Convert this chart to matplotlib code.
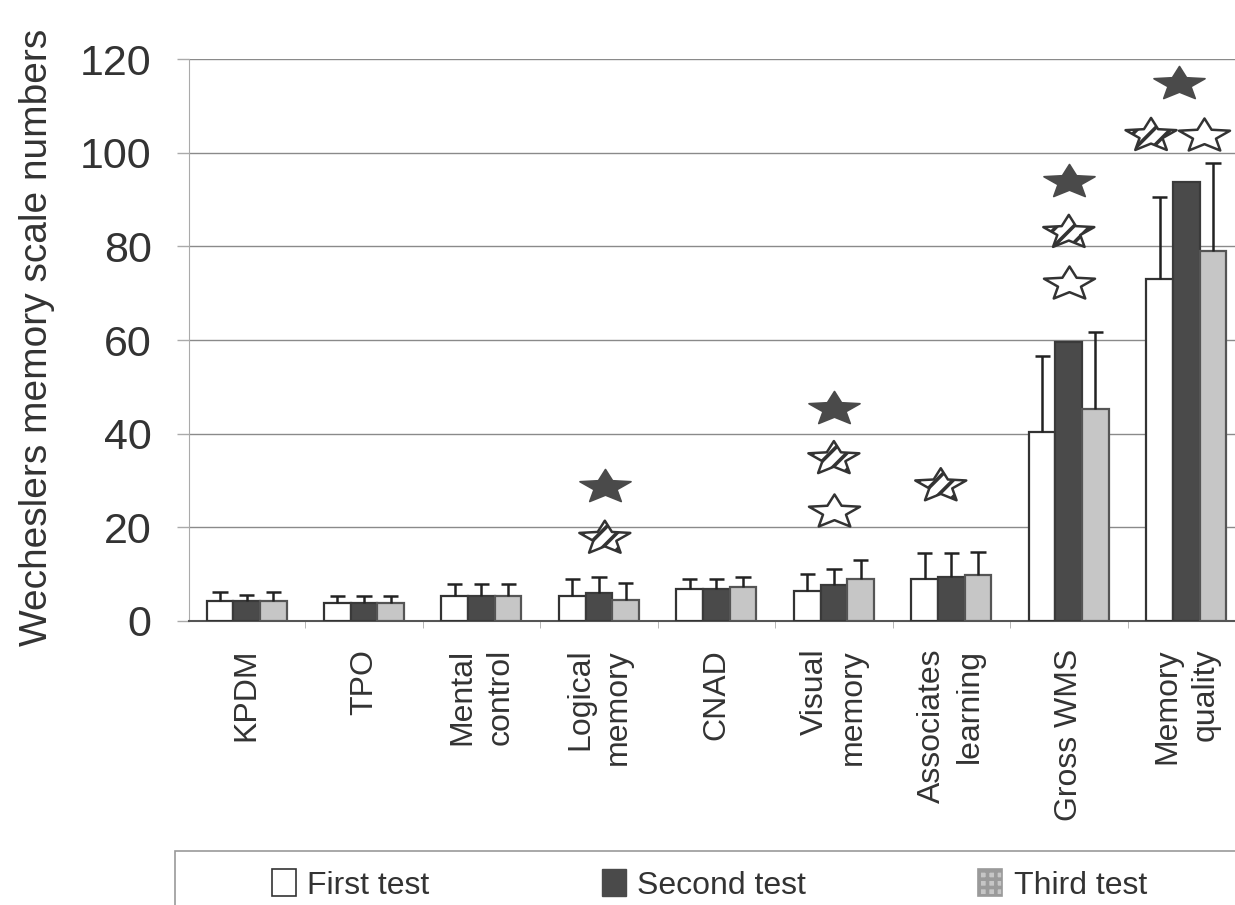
import numpy as np
import matplotlib
matplotlib.use('Agg')
import matplotlib.pyplot as plt
from matplotlib.path import Path
from matplotlib.patches import Patch, Rectangle

plt.rcParams['font.family'] = ['Liberation Sans', 'DejaVu Sans']
plt.rcParams['hatch.linewidth'] = 2.6

categories = ['KPDM', 'TPO', 'Mental\ncontrol', 'Logical\nmemory', 'CNAD',
              'Visual\nmemory', 'Associates\nlearning', 'Gross WMS', 'Memory\nquality']

# means and upper SD for each test
first_test = [4.3, 3.8, 5.3, 5.4, 6.8, 6.4, 9.0, 40.3, 73.0]
first_sd = [1.8, 1.5, 2.6, 3.6, 2.2, 3.6, 5.6, 16.3, 17.5]
second_test = [4.3, 3.8, 5.3, 5.9, 6.8, 7.7, 9.5, 59.6, 93.8]
second_sd = [1.3, 1.5, 2.6, 3.6, 2.2, 3.5, 5.1, np.nan, np.nan]
third_test = [4.3, 3.8, 5.3, 4.5, 7.2, 9.0, 9.8, 45.2, 78.9]
third_sd = [1.8, 1.5, 2.6, 3.7, 2.3, 4.0, 5.0, 16.5, 18.8]

# significance stars: category index, offset inside group, height
filled_cat = [3, 5, 7, 8]
filled_off = [0.05, 0.0, 0.0, -0.06]
filled_y = [29.0, 45.8, 94.2, 115.1]
hatched_cat = [3, 5, 6, 7, 8]
hatched_off = [0.05, 0.0, -0.09, 0.0, -0.30]
hatched_y = [18.0, 35.0, 29.2, 83.3, 104.0]
open_cat = [5, 7, 8]
open_off = [0.0, 0.0, 0.15]
open_y = [23.6, 72.4, 104.0]

legend_labels = ['First test', 'Second test', 'Third test']

TEXT = '#333333'
DARK = '#4a4a4a'
LIGHT = '#c6c6c6'


def star_path(squash=0.66, inner=0.45):
    ang = np.pi / 2 + np.arange(10) * np.pi / 5
    r = np.where(np.arange(10) % 2 == 0, 1.0, inner)
    xs = r * np.cos(ang)
    ys = r * np.sin(ang) * squash
    ys = ys - (ys.max() + ys.min()) / 2
    verts = np.column_stack([xs, ys])
    verts = np.vstack([verts, verts[:1]])
    codes = [Path.MOVETO] + [Path.LINETO] * 9 + [Path.CLOSEPOLY]
    return Path(verts, codes)


fig = plt.figure(figsize=(12.35, 9.05), dpi=100)
ax = fig.add_axes([189 / 1235, 284 / 905, 1056 / 1235, 562 / 905])

x = np.arange(len(categories))
w = 0.227

groups = [
    (first_test, first_sd, -w, 'white', '#333333'),
    (second_test, second_sd, 0, DARK, '#3a3a3a'),
    (third_test, third_sd, w, LIGHT, '#555555'),
]
for vals, sd, off, fc, ec in groups:
    vals = np.array(vals)
    sd = np.array(sd)
    ax.bar(x + off, vals, w, color=fc, edgecolor=ec, linewidth=1.6, zorder=3)
    ok = ~np.isnan(sd)
    ax.vlines(x[ok] + off, vals[ok], vals[ok] + sd[ok], color='#222222', lw=1.8, zorder=3)
    ax.hlines(vals[ok] + sd[ok], x[ok] + off - 0.065, x[ok] + off + 0.065,
              color='#222222', lw=1.8, zorder=3)

star = star_path()
s = 1350
ax.scatter(np.array(filled_cat) + np.array(filled_off), filled_y, marker=star, s=s,
           facecolor=DARK, edgecolor=DARK, linewidths=1.2, zorder=4)
ax.scatter(np.array(hatched_cat) + np.array(hatched_off), hatched_y, marker=star, s=s,
           facecolor='white', edgecolor='#333333', hatch='//', linewidths=1.8, zorder=4)
ax.scatter(np.array(open_cat) + np.array(open_off), open_y, marker=star, s=s,
           facecolor='white', edgecolor='#333333', linewidths=1.8, zorder=4)

ax.set_xlim(-0.49, 8.5)
ax.set_ylim(0, 120)
ax.set_yticks(range(0, 121, 20))
ax.tick_params(axis='y', labelsize=31, colors='#aaaaaa', labelcolor=TEXT,
               length=9, width=1, pad=18)
ax.set_xticks(x)
ax.set_xticklabels(categories, rotation=90, fontsize=23, color=TEXT,
                   linespacing=1.35, multialignment='right')
ax.tick_params(axis='x', length=0, pad=20)
ax.set_xticks(x[:-1] + 0.5, minor=True)
ax.tick_params(axis='x', which='minor', length=5, color='#aaaaaa')
ax.set_ylabel('Wecheslers memory scale numbers', fontsize=28, color=TEXT)
ax.yaxis.set_label_coords(-0.127, 0.505)

ax.grid(axis='y', color='#8a8a8a', lw=1)
ax.set_axisbelow(True)
for side in ['top', 'right']:
    ax.spines[side].set_visible(False)
ax.spines['left'].set_color('#aaaaaa')
ax.spines['bottom'].set_color('#555555')
ax.spines['bottom'].set_linewidth(1.5)

# legend with its own frame
handles = [
    Patch(facecolor='white', edgecolor='#333333', linewidth=1.2),
    Patch(facecolor=DARK, edgecolor=DARK),
    Patch(facecolor=LIGHT, edgecolor='#9a9a9a', linewidth=1.2, hatch='++'),
]
fig.legend(handles, legend_labels, loc='center left', ncol=3,
           bbox_to_anchor=(272 / 1235, 1 - 885 / 905), frameon=False,
           fontsize=23, borderpad=0, borderaxespad=0, handlelength=0.75,
           handleheight=0.9, handletextpad=0.35, columnspacing=5.4,
           labelcolor=TEXT)
fig.patches.append(Rectangle((175 / 1235, -0.05), 1.1, (1 - 851 / 905) + 0.05,
                             transform=fig.transFigure, fill=False,
                             edgecolor='#999999', lw=1.2))

fig.savefig('out.png', dpi=100)
